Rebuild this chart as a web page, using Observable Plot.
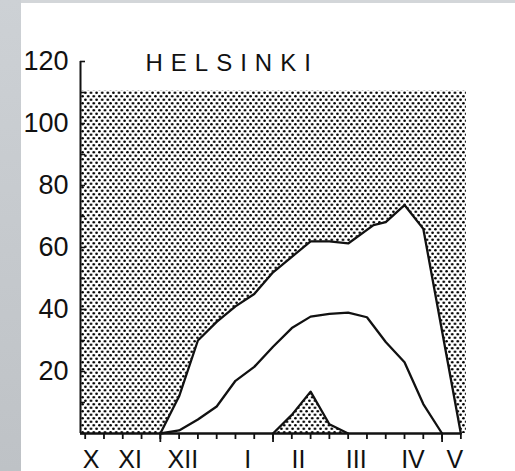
<!DOCTYPE html>
<html><head><meta charset="utf-8">
<script src="https://cdn.jsdelivr.net/npm/d3@7"></script>
<script src="https://cdn.jsdelivr.net/npm/@observablehq/plot@0.6"></script>
<style>
html,body{margin:0;padding:0;}
body{width:515px;height:471px;overflow:hidden;background:
 linear-gradient(to bottom,#cdd1d5,#bec2c6) 0 0/21px 100% no-repeat,
 linear-gradient(#d3d6d9,#d3d6d9) 0 0/100% 3px no-repeat, #fff;}
#chart svg{display:block;}
</style></head><body><div id="chart"></div>
<script>
// x is in 10-day periods (ticks), y in cm
const upperX = [4, 5, 6, 7, 8, 9, 10, 11, 12, 13, 14, 15.35, 16, 17, 18, 20];
const upperY = [0, 12, 30, 36, 41, 45, 52, 57, 62, 62, 61.3, 67.2, 68.2, 73.7, 66, 0];
const middleX = [4, 5, 6, 7, 8, 9, 10, 11, 12, 13, 14, 15, 16, 17, 18, 19];
const middleY = [0, 1, 4.5, 8.7, 17, 21.5, 28, 34, 37.7, 38.6, 39, 37.5, 29.5, 23, 9.5, 0];
const humpX = [10, 11, 12, 13, 14];
const humpY = [0, 6, 13.5, 3, 0];
const stippleTop = [110.5];
const yLabelTicks = [20, 40, 60, 80, 100, 120];
const yMinorTicks = [0, 10, 20, 30, 40, 50, 60, 70, 80, 90, 100, 110, 120];
const xTicks = [0,1,2,3,4,5,6,7,8,9,10,11,12,13,14,15,16,17,18,19,20];
const xMajorTicks = [4, 10, 19];
const monthLabels = ["X", "XI", "XII", "I", "II", "III", "IV", "V"];
const monthPos = [0.32, 2.39, 5.2, 8.65, 11.35, 14.43, 17.45, 19.68];
const xMin = -0.25, xMax = 20.3, xAxisEnd = 20;
const title = "HELSINKI";

const upper = upperX.map((x, i) => ({x, y: upperY[i]}));
const middle = middleX.map((x, i) => ({x, y: middleY[i]}));
const hump = humpX.map((x, i) => ({x, y: humpY[i]}));

const ink = "#111";
const chart = Plot.plot({
  width: 515, height: 471,
  marginLeft: 80, marginRight: 49, marginTop: 61, marginBottom: 38,
  style: {background: "transparent", fontFamily: "'Liberation Sans', Arial, sans-serif", color: ink},
  x: {domain: [xMin, xMax], label: null},
  y: {domain: [0, 120], label: null},
  marks: [
    Plot.rect(stippleTop, {x1: xMin, x2: xMax, y1: 0, y2: d => d, fill: "url(#dots)"}),
    Plot.areaY(upper, {x: "x", y: "y", fill: "white"}),
    Plot.areaY(hump, {x: "x", y: "y", fill: "url(#dots)"}),
    Plot.line(upper, {x: "x", y: "y", stroke: ink, strokeWidth: 2.3}),
    Plot.line(middle, {x: "x", y: "y", stroke: ink, strokeWidth: 2.3}),
    Plot.line(hump, {x: "x", y: "y", stroke: ink, strokeWidth: 2.3}),
    Plot.ruleX([xMin], {stroke: ink, strokeWidth: 2}),
    Plot.ruleY([0], {x1: xMin, x2: xAxisEnd, stroke: ink, strokeWidth: 2.3}),
    Plot.axisY(yMinorTicks, {tickSize: -5, tickFormat: () => "", strokeWidth: 1.6}),
    Plot.axisY(yLabelTicks, {tickSize: 0, tickPadding: 12, fontSize: 27, tickFormat: d => d}),
    Plot.axisX(xTicks, {tickSize: 6, tickFormat: () => "", strokeWidth: 1.8}),
    Plot.axisX(xMajorTicks, {tickSize: 9, tickFormat: () => "", strokeWidth: 1.8}),
    Plot.text(monthLabels, {x: (d, i) => monthPos[i], frameAnchor: "bottom", dy: 26, fontSize: 25, lineAnchor: "middle", fill: ink}),
    Plot.text([title], {frameAnchor: "top-left", dx: 65, dy: 2, textAnchor: "start", lineAnchor: "middle", fontSize: 24, fill: ink})
  ]
});

const ns = "http://www.w3.org/2000/svg";
const defs = document.createElementNS(ns, "defs");
const pat = document.createElementNS(ns, "pattern");
pat.setAttribute("id", "dots");
pat.setAttribute("patternUnits", "userSpaceOnUse");
pat.setAttribute("width", "5.6");
pat.setAttribute("height", "7");
for (const [cx, cy] of [[1.4, 1.75], [4.2, 5.25]]) {
  const c = document.createElementNS(ns, "circle");
  c.setAttribute("cx", cx); c.setAttribute("cy", cy); c.setAttribute("r", "1.3");
  c.setAttribute("fill", "#000");
  pat.appendChild(c);
}
defs.appendChild(pat);
chart.insertBefore(defs, chart.firstChild);
chart.querySelectorAll("text").forEach(t => {
  if (t.textContent === title) t.setAttribute("letter-spacing", "8");
});
document.getElementById("chart").appendChild(chart);
</script></body></html>
